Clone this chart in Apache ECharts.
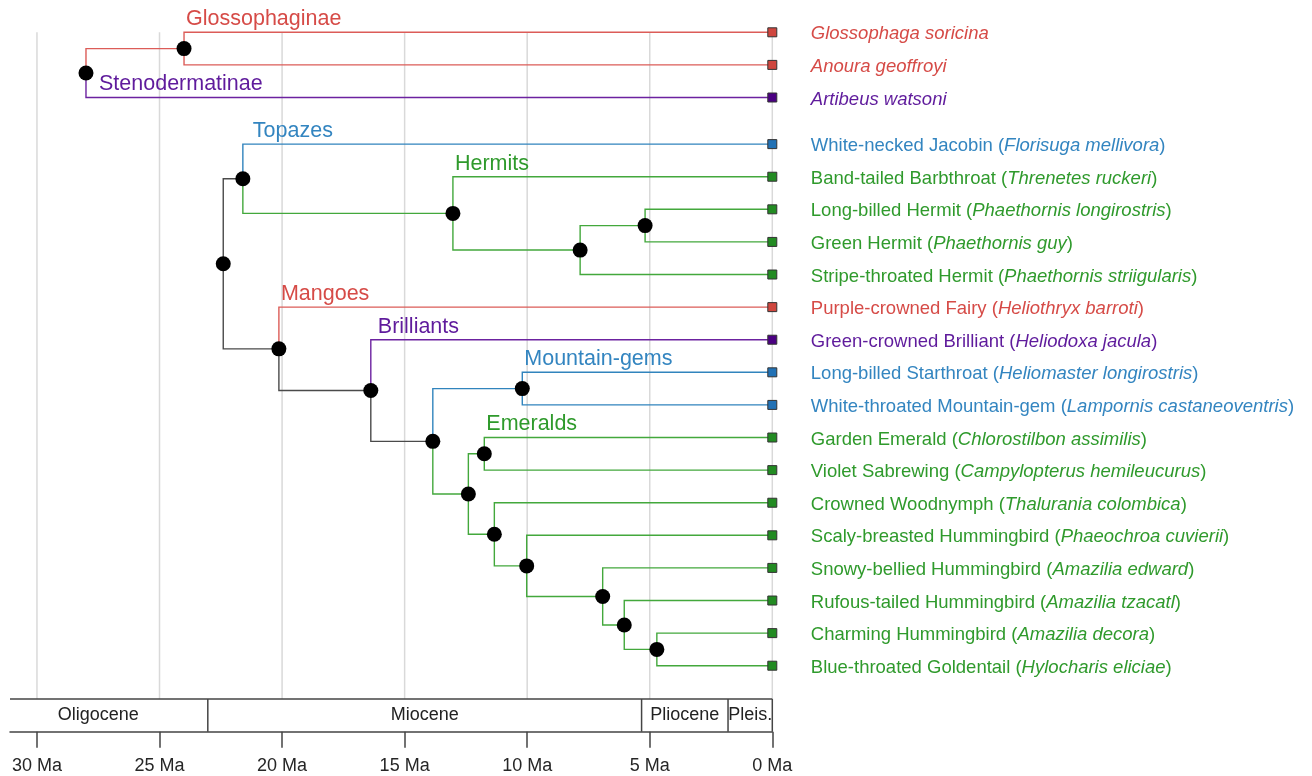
<!DOCTYPE html>
<html>
<head>
<meta charset="utf-8">
<title>Time-calibrated phylogeny of nectar-feeding bats and hummingbirds</title>
<script src="https://cdn.jsdelivr.net/npm/echarts@6/dist/echarts.min.js"></script>
<style>
  html, body { margin: 0; padding: 0; background: #ffffff; }
  #chart { width: 1312px; height: 776px; }
</style>
</head>
<body>
<div id="chart"></div>
<script>
// ---- Tips, listed top to bottom ----
const tipCommon = [
  '', '', '',
  'White-necked Jacobin', 'Band-tailed Barbthroat', 'Long-billed Hermit', 'Green Hermit',
  'Stripe-throated Hermit', 'Purple-crowned Fairy', 'Green-crowned Brilliant',
  'Long-billed Starthroat', 'White-throated Mountain-gem', 'Garden Emerald', 'Violet Sabrewing',
  'Crowned Woodnymph', 'Scaly-breasted Hummingbird', 'Snowy-bellied Hummingbird',
  'Rufous-tailed Hummingbird', 'Charming Hummingbird', 'Blue-throated Goldentail'
];
const tipSpecies = [
  'Glossophaga soricina', 'Anoura geoffroyi', 'Artibeus watsoni',
  'Florisuga mellivora', 'Threnetes ruckeri', 'Phaethornis longirostris', 'Phaethornis guy',
  'Phaethornis striigularis', 'Heliothryx barroti', 'Heliodoxa jacula',
  'Heliomaster longirostris', 'Lampornis castaneoventris', 'Chlorostilbon assimilis',
  'Campylopterus hemileucurus', 'Thalurania colombica', 'Phaeochroa cuvierii',
  'Amazilia edward', 'Amazilia tzacatl', 'Amazilia decora', 'Hylocharis eliciae'
];
const tipClade = [
  'red', 'red', 'purple',
  'blue', 'green', 'green', 'green', 'green', 'red', 'purple',
  'blue', 'blue', 'green', 'green', 'green', 'green', 'green', 'green', 'green', 'green'
];
// row of each tip on the vertical scale (bats, then hummingbirds after a small gap)
const tipRows = [0, 1, 2, 3.43, 4.43, 5.43, 6.43, 7.43, 8.43, 9.43, 10.43, 11.43, 12.43, 13.43, 14.43, 15.43, 16.43, 17.43, 18.43, 19.43];

// ---- Internal nodes: divergence age (Ma) and children ('#n' = tip index n) ----
const nodeIds = ['bats', 'gloss', 'hum', 'topaz', 'hermit', 'phae', 'phae2', 'mango', 'brill',
                 'core', 'mtgem', 'emer', 'emer1', 'emer2', 'emer3', 'emer4', 'amaz1', 'amaz2'];
const nodeAges = [28.0, 24.0, 22.4, 21.6, 13.03, 7.84, 5.19, 20.13, 16.38,
                  13.85, 10.2, 12.4, 11.75, 11.34, 10.02, 6.92, 6.04, 4.71];
const nodeChildren = [
  ['gloss', '#2'], ['#0', '#1'], ['topaz', 'mango'], ['#3', 'hermit'], ['#4', 'phae'],
  ['phae2', '#7'], ['#5', '#6'], ['#8', 'brill'], ['#9', 'core'], ['mtgem', 'emer'],
  ['#10', '#11'], ['emer1', 'emer2'], ['#12', '#13'], ['#14', 'emer3'], ['#15', 'emer4'],
  ['#16', 'amaz1'], ['#17', 'amaz2'], ['#18', '#19']
];
// colour of the branch leading into each node
const nodeClade = ['gray', 'red', 'gray', 'gray', 'green', 'green', 'green', 'gray', 'gray',
                   'gray', 'blue', 'green', 'green', 'green', 'green', 'green', 'green', 'green'];

// ---- Clade names, each written above the first branch of its crown node ----
const cladeNames = ['Glossophaginae', 'Stenodermatinae', 'Topazes', 'Hermits', 'Mangoes',
                    'Brilliants', 'Mountain-gems', 'Emeralds'];
const cladeNode = ['gloss', 'bats', 'topaz', 'hermit', 'mango', 'brill', 'mtgem', 'emer1'];
const cladeTip = [0, 2, 3, 4, 8, 9, 10, 12];
const cladeColour = ['red', 'purple', 'blue', 'green', 'red', 'purple', 'blue', 'green'];

// ---- Geological time scale ----
const epochNames = ['Oligocene', 'Miocene', 'Pliocene', 'Pleis.'];
const epochStart = [31.1, 23.03, 5.333, 1.806];
const epochEnd = [23.03, 5.333, 1.806, 0];
const epochLabelAt = [27.5, 14.18, 3.57, 0.9];

// ---- Axis ticks (Ma) ----
const tickValues = [0, 5, 10, 15, 20, 25, 30];

// ---------------------------------------------------------------
const palette = {
  red:    { line: '#dc5c58', text: '#d64b47', fill: '#cf463e' },
  purple: { line: '#6c22a0', text: '#5f1b9c', fill: '#4b0082' },
  blue:   { line: '#3184bd', text: '#3385c0', fill: '#2171b5' },
  green:  { line: '#43a83c', text: '#2f9a2c', fill: '#228b22' },
  gray:   { line: '#4a4a4a', text: '#333333', fill: '#333333' }
};
const FONT = '"Liberation Sans", Arial, sans-serif';

const AGE_MAX = 31.1;
const ROW_MIN = -0.991, ROW_MAX = 21.454;
const SCALE_TOP = 20.45;   // top edge of the time-scale strip

const isTip = ref => ref[0] === '#';
const tipIdx = ref => +ref.slice(1);

// locate node rows as the mean of their children
const nodeIndex = {};
nodeIds.forEach((id, i) => { nodeIndex[id] = i; });
const nodeRow = {};
function rowOf(ref) {
  if (isTip(ref)) return tipRows[tipIdx(ref)];
  if (nodeRow[ref] === undefined) {
    const kids = nodeChildren[nodeIndex[ref]];
    nodeRow[ref] = kids.reduce((s, k) => s + rowOf(k), 0) / kids.length;
  }
  return nodeRow[ref];
}
function ageOf(ref) { return isTip(ref) ? 0 : nodeAges[nodeIndex[ref]]; }
function cladeOf(ref) { return isTip(ref) ? tipClade[tipIdx(ref)] : nodeClade[nodeIndex[ref]]; }
nodeIds.forEach(rowOf);

// branches: vertical at the parent's age, then horizontal to the child
const edges = [];
nodeIds.forEach((id, i) => {
  const pa = nodeAges[i], pr = nodeRow[id];
  nodeChildren[i].forEach(k => {
    const kr = rowOf(k), ka = ageOf(k);
    edges.push({
      coords: [[pa, pr], [pa, kr], [ka, kr]],
      lineStyle: { color: palette[cladeOf(k)].line }
    });
  });
});

// vertical reference lines
const gridLines = tickValues.map(v => ({ coords: [[v, 0], [v, SCALE_TOP]] }));

// time-scale strip
const scaleLines = [{ coords: [[AGE_MAX, SCALE_TOP], [0, SCALE_TOP]] }];
epochEnd.forEach(e => { scaleLines.push({ coords: [[e, SCALE_TOP], [e, ROW_MAX]] }); });

const nodePoints = nodeIds.map((id, i) => [nodeAges[i], nodeRow[id]]);

const tipPoints = tipSpecies.map((sp, i) => {
  const c = palette[tipClade[i]];
  const fmt = tipCommon[i]
    ? '{n|' + tipCommon[i] + ' (}{s|' + sp + '}{n|)}'
    : '{s|' + sp + '}';
  return {
    value: [0, tipRows[i]],
    itemStyle: { color: c.fill },
    label: {
      formatter: fmt,
      rich: {
        n: { color: c.text, fontSize: 18.5, fontFamily: FONT },
        s: { color: c.text, fontSize: 18.5, fontFamily: FONT, fontStyle: 'italic' }
      }
    }
  };
});

// small horizontal nudges keep names clear of the node dots
const cladeNudge = { Stenodermatinae: 11, Topazes: 8, Brilliants: 5 };
const cladePoints = cladeNames.map((name, i) => ({
  value: [nodeAges[nodeIndex[cladeNode[i]]], tipRows[cladeTip[i]]],
  label: {
    formatter: name,
    color: palette[cladeColour[i]].text,
    offset: [2 + (cladeNudge[name] || 0), -13]
  }
}));

const epochPoints = epochNames.map((name, i) => ({
  value: [epochLabelAt[i], (SCALE_TOP + ROW_MAX) / 2],
  label: { formatter: name }
}));

const chart = echarts.init(document.getElementById('chart'), null, { renderer: 'canvas' });
chart.setOption({
  backgroundColor: '#ffffff',
  animation: false,
  grid: { left: 10, top: 0, width: 762.3, height: 731.7, containLabel: false, outerBoundsMode: 'none' },
  xAxis: {
    type: 'value', inverse: true, min: 0, max: AGE_MAX,
    axisLine: { show: true, onZero: false, lineStyle: { color: '#444', width: 1.5 } },
    axisTick: { show: true, customValues: tickValues, length: 16, lineStyle: { color: '#444', width: 1.5 } },
    axisLabel: {
      show: true, customValues: tickValues, margin: 25,
      formatter: v => v + ' Ma', fontSize: 18, color: '#262626', fontFamily: FONT
    },
    splitLine: { show: false }
  },
  yAxis: { type: 'value', inverse: true, min: ROW_MIN, max: ROW_MAX, show: false },
  series: [
    {
      type: 'lines', coordinateSystem: 'cartesian2d', polyline: true, clip: false, silent: true, z: 1,
      lineStyle: { color: '#d9d9d9', width: 1.5, opacity: 1 },
      data: gridLines
    },
    {
      type: 'lines', coordinateSystem: 'cartesian2d', polyline: true, clip: false, silent: true, z: 2,
      lineStyle: { width: 1.4, opacity: 1, join: 'miter', cap: 'square' },
      data: edges
    },
    {
      type: 'lines', coordinateSystem: 'cartesian2d', polyline: true, clip: false, silent: true, z: 2,
      lineStyle: { color: '#444', width: 1.5, opacity: 1 },
      data: scaleLines
    },
    {
      type: 'scatter', clip: false, silent: true, z: 4,
      symbol: 'circle', symbolSize: 15, itemStyle: { color: '#000', opacity: 1 },
      data: nodePoints
    },
    {
      type: 'scatter', clip: false, silent: true, z: 4,
      symbol: 'rect', symbolSize: 9,
      itemStyle: { borderColor: '#333', borderWidth: 1, opacity: 1 },
      label: { show: true, position: 'right', distance: 33.5, offset: [0, 2], opacity: 1 },
      data: tipPoints
    },
    {
      type: 'scatter', clip: false, silent: true, z: 5,
      symbol: 'circle', symbolSize: 0, itemStyle: { color: 'transparent', opacity: 1 },
      label: { show: true, position: 'right', distance: 0, fontSize: 21.5, fontFamily: FONT, opacity: 1 },
      data: cladePoints
    },
    {
      type: 'scatter', clip: false, silent: true, z: 5,
      symbol: 'circle', symbolSize: 0, itemStyle: { color: 'transparent', opacity: 1 },
      label: { show: true, position: 'inside', fontSize: 18, color: '#222', fontFamily: FONT, opacity: 1 },
      data: epochPoints
    }
  ]
});
</script>
</body>
</html>
